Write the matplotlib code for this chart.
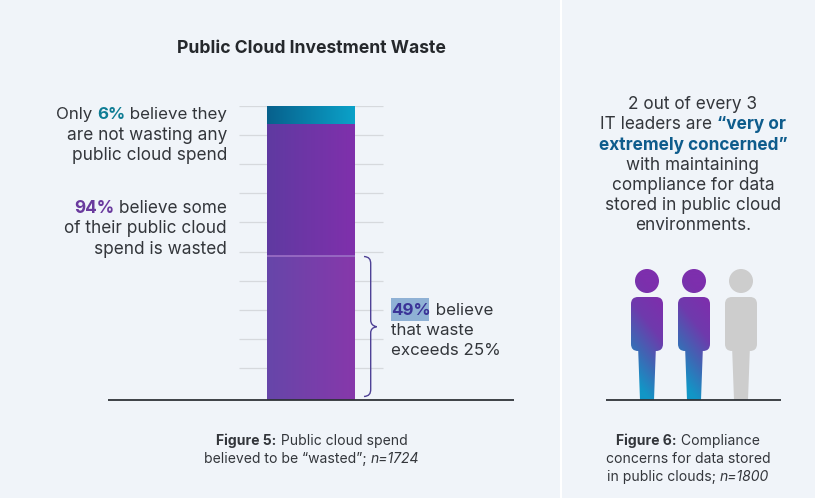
import numpy as np
import matplotlib
matplotlib.use("Agg")
import matplotlib.pyplot as plt
from matplotlib.colors import LinearSegmentedColormap as LSC
from matplotlib.path import Path
from matplotlib.patches import PathPatch, Circle, FancyBboxPatch, Polygon, Rectangle

plt.rcParams['font.family'] = ['Inter', 'DejaVu Sans']

# ---- data ----
segment_names = ["waste exceeds 25%", "waste up to 25%", "no waste"]
segment_values = [49, 45, 6]
grid_values = [10.8, 20.8, 30.6, 40.5, 50.4, 60.4, 70.3, 80.1, 90, 100]
people_concerned = [1, 1, 0]

W, H = 815, 498
BG = "#f0f4f9"
INK = "#33363b"
fig = plt.figure(figsize=(W/100, H/100), dpi=100, facecolor=BG)

# ---- bar chart ----
ax = fig.add_axes([108/W, 1-399.7/H, (514-108)/W, (399.7-106)/H], facecolor="none")
ax.axis("off")
ax.hlines(grid_values, -0.82, 0.82, color="#d6d9dd", lw=0.9, zorder=1)
grads = [("#6646a9", "#8738ab"), ("#5f3aa1", "#8030ac"), ("#07608c", "#0ba2c9")]
bottom = 0
for v, (c0, c1) in zip(segment_values, grads):
    bar = ax.bar(0, v, width=1, bottom=bottom, color="none", zorder=2)[0]
    cm = LSC.from_list("g", [c0, c1], N=512)
    im = ax.imshow(np.linspace(0, 1, 256)[None, :], cmap=cm, aspect="auto",
                   extent=(-0.5, 0.5, bottom, bottom+v), zorder=2,
                   interpolation="bilinear")
    im.set_clip_path(bar)
    bottom += v
ax.hlines(segment_values[0], -0.5, 0.5, color="#9c70c6", lw=1.2, zorder=3)
ax.set_xlim(-203/88, 203/88)
ax.set_ylim(0, 100)

# ---- overlay in pixel coordinates ----
ov = fig.add_axes([0, 0, 1, 1], facecolor="none")
ov.axis("off")
ov.add_patch(Rectangle((560, 0), 2.2, H, color="white", lw=0, zorder=0))
ov.plot([108, 514], [399.7, 399.7], color="#2f3338", lw=1.3, zorder=5, solid_capstyle="butt")
ov.plot([606, 781], [399.7, 399.7], color="#2f3338", lw=1.3, zorder=5, solid_capstyle="butt")

# brace
brace = Path(
    [(364, 256.5), (369, 257), (370.7, 259), (370.7, 264),
     (370.7, 320), (370.7, 324), (373, 326), (376.7, 326.7),
     (373, 327.4), (370.7, 329), (370.7, 333),
     (370.7, 389), (370.7, 394), (369, 396), (364, 396.5)],
    [Path.MOVETO, Path.CURVE4, Path.CURVE4, Path.CURVE4,
     Path.LINETO, Path.CURVE4, Path.CURVE4, Path.CURVE4,
     Path.CURVE4, Path.CURVE4, Path.CURVE4,
     Path.LINETO, Path.CURVE4, Path.CURVE4, Path.CURVE4])
ov.add_patch(PathPatch(brace, fc="none", ec="#4f4296", lw=1))

# people
pcm = LSC.from_list("p", ["#1296c6", "#3f66b4", "#6f3aac", "#7d2fad"])
for i, on in enumerate(people_concerned):
    cx = 647 + i*47
    parts = [Circle((cx, 281), 12),
             FancyBboxPatch((cx-16+7, 297+7), 32-14, 54-14, boxstyle="round,pad=7"),
             Polygon([(cx-9, 345), (cx+9, 345), (cx+7, 400), (cx-7, 400)], closed=True)]
    for p in parts:
        if on:
            p.set(fc="none", ec="none")
            ov.add_patch(p)
            yy, xx = np.mgrid[0:1:128j, 0:1:64j]
            t = np.clip(1 - (yy*1.15 - 0.12 + (0.5-xx)*0.35), 0, 1)
            im = ov.imshow(t, cmap=pcm, vmin=0, vmax=1, aspect="auto",
                           extent=(cx-16, cx+16, 400, 269), zorder=3,
                           interpolation="bilinear")
            im.set_clip_path(p)
        else:
            p.set(fc="#cdcdcd", ec="none", zorder=3)
            ov.add_patch(p)

ov.set_xlim(0, W)
ov.set_ylim(H, 0)

# ---- text helpers ----
rend = fig.canvas.get_renderer()

def runs(x, y, parts, size, align="left"):
    """parts: list of (string, colour, weight, style)"""
    items, widths = [], []
    for s, c, w, st in parts:
        t = ov.text(0, y, s, color=c, fontweight=w, fontstyle=st, fontsize=size,
                    va="center_baseline", ha="left", zorder=6)
        # keep trailing spaces in the measurement
        a = ov.text(0, y, s.replace(" ", "n"), fontweight=w, fontstyle=st, fontsize=size)
        a0 = a.get_window_extent(rend).width
        a.remove()
        sp = ov.text(0, y, "n n", fontsize=size, fontweight=w)
        sn = ov.text(0, y, "nn", fontsize=size, fontweight=w)
        space = sp.get_window_extent(rend).width - sn.get_window_extent(rend).width
        nw = (sn.get_window_extent(rend).width) / 2
        sp.remove(); sn.remove()
        widths.append(a0 - s.count(" ")*(nw - space))
        items.append(t)
    total = sum(widths)
    x0 = {"left": x, "right": x-total, "center": x-total/2}[align]
    for t, w in zip(items, widths):
        t.set_x(x0)
        x0 += w

def P(s, c=INK, w="normal", st="normal"):
    return (s, c, w, st)

TEAL, PURP, NAVY = "#0f7d95", "#6a3a9e", "#0e5c8c"
BODY = 12.4

ov.text(311, 48, "Public Cloud Investment Waste", ha="center", va="center",
        fontsize=12.65, fontweight="bold", color="#25282c")

runs(227, 113, [P("Only "), P("6%", TEAL, "bold"), P(" believe they")], 12.2, "right")
runs(227, 133, [P("are not wasting any")], BODY, "right")
runs(227, 153, [P("public cloud spend")], BODY, "right")
runs(227, 206.5, [P("94%", PURP, "bold"), P(" believe some")], BODY, "right")
runs(227, 226.5, [P("of their public cloud")], BODY, "right")
runs(227, 247, [P("spend is wasted")], BODY, "right")

ov.add_patch(Rectangle((391, 298), 38, 22.5, color="#8fb1d5", lw=0, zorder=4))
runs(391, 308.5, [P("49%", "#3a3397", "bold"), P(" believe")], 12.2, "left")
runs(391, 328.5, [P("that waste")], 12.2, "left")
runs(391, 348.5, [P("exceeds 25%")], 12.2, "left")

CX = 693
runs(CX, 102, [P("2 out of every 3")], BODY, "center")
runs(CX, 122, [P("IT leaders are "), P("“very or", NAVY, "bold")], BODY, "center")
runs(CX, 143, [P("extremely concerned”", NAVY, "bold")], BODY, "center")
runs(CX, 163, [P("with maintaining")], BODY, "center")
runs(CX, 183, [P("compliance for data")], BODY, "center")
runs(CX, 203, [P("stored in public cloud")], BODY, "center")
runs(CX, 223, [P("environments.")], BODY, "center")

CAP = 10.05
runs(312, 439, [P("Figure 5:", INK, "bold"), P(" Public cloud spend")], CAP, "center")
runs(312, 457, [P("believed to be “wasted”; "), P("n=1724", INK, "normal", "italic")], CAP, "center")
runs(688, 439, [P("Figure 6:", INK, "bold"), P(" Compliance")], CAP, "center")
runs(688, 457, [P("concerns for data stored")], CAP, "center")
runs(688, 475, [P("in public clouds; "), P("n=1800", INK, "normal", "italic")], CAP, "center")

fig.savefig("out.png", dpi=100, facecolor=BG)
